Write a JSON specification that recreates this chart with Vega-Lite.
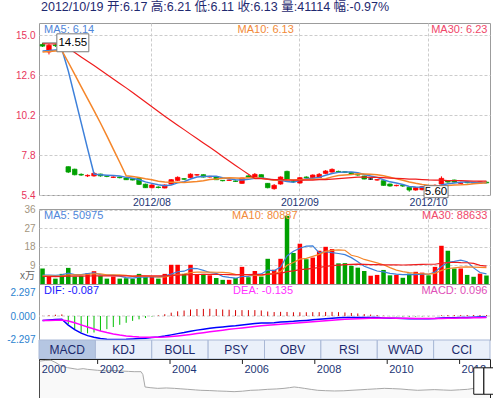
{
  "$schema": "https://vega.github.io/schema/vega-lite/v6.json",
  "padding": 0,
  "background": "#ffffff",
  "spacing": 14,
  "bounds": "flush",
  "config": {
    "font": "Liberation Sans",
    "view": {"stroke": "#9c9c9c"},
    "axis": {"domain": false, "ticks": false, "gridColor": "#cccccc", "gridDash": [3, 2], "labelFont": "Liberation Sans", "labelOverlap": false}
  },
  "datasets": {
    "k": [
      {"d":"2012-07-09","o":14.45,"h":14.55,"l":14.3,"c":14.35,"v":7.5,"m5":14.06,"m10":14.0,"m30":14.5,"vm5":4.3,"vm10":3.9,"vm30":3.63,"dif":-0.442,"dea":-0.448,"macd":0.01},
      {"d":"2012-07-10","o":14.0,"h":14.5,"l":13.85,"c":14.4,"v":3.6,"m5":14.08,"m10":14.02,"m30":14.49,"vm5":4.32,"vm10":3.91,"vm30":3.64,"dif":-0.395,"dea":-0.437,"macd":0.08},
      {"d":"2012-07-11","o":14.42,"h":14.5,"l":14.3,"c":14.38,"v":2.6,"m5":14.12,"m10":14.05,"m30":14.48,"vm5":4.14,"vm10":3.82,"vm30":3.61,"dif":-0.355,"dea":-0.421,"macd":0.13},
      {"d":"2012-07-12","o":14.42,"h":14.48,"l":14.3,"c":14.38,"v":4.9,"m5":14.16,"m10":14.08,"m30":14.47,"vm5":4.42,"vm10":3.96,"vm30":3.65,"dif":-0.32,"dea":-0.401,"macd":0.16},
      {"d":"2012-07-13","o":7.1,"h":7.12,"l":6.72,"c":6.78,"v":7.8,"m5":12.86,"m10":13.38,"m30":14.23,"vm5":5.28,"vm10":4.39,"vm30":3.8,"dif":-0.895,"dea":-0.5,"macd":-0.79},
      {"d":"2012-07-16","o":6.95,"h":6.98,"l":6.58,"c":6.62,"v":3.6,"m5":11.31,"m10":12.65,"m30":13.96,"vm5":4.5,"vm10":4.4,"vm30":3.8,"dif":-1.348,"dea":-0.67,"macd":-1.36},
      {"d":"2012-07-17","o":6.64,"h":6.7,"l":6.55,"c":6.6,"v":3.9,"m5":9.75,"m10":11.92,"m30":13.7,"vm5":4.56,"vm10":4.44,"vm30":3.81,"dif":-1.69,"dea":-0.874,"macd":-1.63},
      {"d":"2012-07-18","o":6.55,"h":6.64,"l":6.48,"c":6.58,"v":5.2,"m5":8.19,"m10":11.19,"m30":13.44,"vm5":5.08,"vm10":4.61,"vm30":3.87,"dif":-1.94,"dea":-1.087,"macd":-1.71},
      {"d":"2012-07-19","o":6.55,"h":6.78,"l":6.5,"c":6.7,"v":6.2,"m5":6.66,"m10":10.47,"m30":13.18,"vm5":5.34,"vm10":4.88,"vm30":3.96,"dif":-2.104,"dea":-1.29,"macd":-1.63},
      {"d":"2012-07-20","o":6.66,"h":6.68,"l":6.5,"c":6.55,"v":3.9,"m5":6.61,"m10":9.73,"m30":12.91,"vm5":4.56,"vm10":4.92,"vm30":3.97,"dif":-2.22,"dea":-1.476,"macd":-1.49},
      {"d":"2012-07-23","o":6.55,"h":6.58,"l":6.47,"c":6.52,"v":2.6,"m5":6.59,"m10":8.95,"m30":12.65,"vm5":4.36,"vm10":4.43,"vm30":3.94,"dif":-2.288,"dea":-1.638,"macd":-1.3},
      {"d":"2012-07-24","o":6.46,"h":6.52,"l":6.42,"c":6.48,"v":3.6,"m5":6.57,"m10":8.16,"m30":12.38,"vm5":4.3,"vm10":4.43,"vm30":3.95,"dif":-2.319,"dea":-1.774,"macd":-1.09},
      {"d":"2012-07-25","o":6.48,"h":6.5,"l":6.4,"c":6.44,"v":2.6,"m5":6.54,"m10":7.37,"m30":12.11,"vm5":3.78,"vm10":4.43,"vm30":3.92,"dif":-2.32,"dea":-1.883,"macd":-0.87},
      {"d":"2012-07-26","o":6.42,"h":6.44,"l":6.3,"c":6.32,"v":2.8,"m5":6.46,"m10":6.56,"m30":11.84,"vm5":3.1,"vm10":4.22,"vm30":3.89,"dif":-2.304,"dea":-1.967,"macd":-0.67},
      {"d":"2012-07-27","o":6.38,"h":6.42,"l":6.28,"c":6.3,"v":2.6,"m5":6.41,"m10":6.51,"m30":11.56,"vm5":2.84,"vm10":3.7,"vm30":3.86,"dif":-2.267,"dea":-2.027,"macd":-0.48},
      {"d":"2012-07-30","o":6.4,"h":6.42,"l":6.0,"c":6.04,"v":4.9,"m5":6.32,"m10":6.45,"m30":11.28,"vm5":3.3,"vm10":3.83,"vm30":3.91,"dif":-2.232,"dea":-2.068,"macd":-0.33},
      {"d":"2012-07-31","o":6.05,"h":6.08,"l":5.82,"c":5.84,"v":3.6,"m5":6.19,"m10":6.38,"m30":10.99,"vm5":3.3,"vm10":3.8,"vm30":3.91,"dif":-2.196,"dea":-2.094,"macd":-0.2},
      {"d":"2012-08-01","o":5.84,"h":6.04,"l":5.8,"c":6.0,"v":3.6,"m5":6.1,"m10":6.32,"m30":10.71,"vm5":3.5,"vm10":3.64,"vm30":3.92,"dif":-2.13,"dea":-2.101,"macd":-0.06},
      {"d":"2012-08-02","o":5.88,"h":5.92,"l":5.8,"c":5.85,"v":2.6,"m5":6.01,"m10":6.23,"m30":10.42,"vm5":3.46,"vm10":3.28,"vm30":3.89,"dif":-2.065,"dea":-2.094,"macd":0.06},
      {"d":"2012-08-03","o":5.82,"h":6.04,"l":5.8,"c":6.0,"v":4.9,"m5":5.95,"m10":6.18,"m30":10.14,"vm5":3.92,"vm10":3.38,"vm30":3.93,"dif":-1.979,"dea":-2.071,"macd":0.18},
      {"d":"2012-08-06","o":6.06,"h":6.36,"l":6.02,"c":6.32,"v":9.3,"m5":6.0,"m10":6.16,"m30":9.87,"vm5":4.8,"vm10":4.05,"vm30":4.13,"dif":-1.863,"dea":-2.029,"macd":0.33},
      {"d":"2012-08-07","o":6.28,"h":6.52,"l":6.24,"c":6.46,"v":9.3,"m5":6.13,"m10":6.16,"m30":9.6,"vm5":5.94,"vm10":4.62,"vm30":4.32,"dif":-1.741,"dea":-1.971,"macd":0.46},
      {"d":"2012-08-08","o":6.38,"h":6.42,"l":6.3,"c":6.35,"v":4.9,"m5":6.2,"m10":6.15,"m30":9.33,"vm5":6.2,"vm10":4.85,"vm30":4.37,"dif":-1.634,"dea":-1.904,"macd":0.54},
      {"d":"2012-08-09","o":6.45,"h":6.7,"l":6.4,"c":6.65,"v":9.3,"m5":6.36,"m10":6.18,"m30":9.06,"vm5":7.54,"vm10":5.5,"vm30":4.56,"dif":-1.507,"dea":-1.825,"macd":0.64},
      {"d":"2012-08-10","o":6.6,"h":6.66,"l":6.55,"c":6.62,"v":4.6,"m5":6.48,"m10":6.21,"m30":8.8,"vm5":7.48,"vm10":5.7,"vm30":4.6,"dif":-1.394,"dea":-1.739,"macd":0.69},
      {"d":"2012-08-13","o":6.62,"h":6.64,"l":6.45,"c":6.48,"v":4.9,"m5":6.51,"m10":6.26,"m30":8.53,"vm5":6.6,"vm10":5.7,"vm30":4.64,"dif":-1.3,"dea":-1.651,"macd":0.7},
      {"d":"2012-08-14","o":6.48,"h":6.55,"l":6.45,"c":6.52,"v":4.2,"m5":6.52,"m10":6.33,"m30":8.27,"vm5":5.58,"vm10":5.76,"vm30":4.67,"dif":-1.208,"dea":-1.562,"macd":0.71},
      {"d":"2012-08-15","o":6.5,"h":6.52,"l":6.3,"c":6.32,"v":2.9,"m5":6.52,"m10":6.36,"m30":8.0,"vm5":5.18,"vm10":5.69,"vm30":4.65,"dif":-1.138,"dea":-1.477,"macd":0.68},
      {"d":"2012-08-16","o":6.28,"h":6.3,"l":6.22,"c":6.26,"v":2.0,"m5":6.44,"m10":6.4,"m30":7.72,"vm5":3.72,"vm10":5.63,"vm30":4.6,"dif":-1.076,"dea":-1.397,"macd":0.64},
      {"d":"2012-08-17","o":6.28,"h":6.34,"l":6.25,"c":6.3,"v":2.0,"m5":6.38,"m10":6.43,"m30":7.45,"vm5":3.2,"vm10":5.34,"vm30":4.55,"dif":-1.011,"dea":-1.32,"macd":0.62},
      {"d":"2012-08-20","o":6.24,"h":6.28,"l":6.18,"c":6.22,"v":2.9,"m5":6.32,"m10":6.42,"m30":7.18,"vm5":2.8,"vm10":4.7,"vm30":4.39,"dif":-0.955,"dea":-1.247,"macd":0.58},
      {"d":"2012-08-21","o":6.1,"h":6.44,"l":6.08,"c":6.42,"v":8.3,"m5":6.3,"m10":6.41,"m30":6.91,"vm5":3.62,"vm10":4.6,"vm30":4.55,"dif":-0.884,"dea":-1.174,"macd":0.58},
      {"d":"2012-08-22","o":6.55,"h":6.58,"l":6.44,"c":6.48,"v":3.3,"m5":6.34,"m10":6.43,"m30":6.65,"vm5":3.7,"vm10":4.44,"vm30":4.57,"dif":-0.814,"dea":-1.102,"macd":0.58},
      {"d":"2012-08-23","o":6.44,"h":6.72,"l":6.4,"c":6.64,"v":6.3,"m5":6.41,"m10":6.43,"m30":6.39,"vm5":4.56,"vm10":4.14,"vm30":4.62,"dif":-0.737,"dea":-1.029,"macd":0.58},
      {"d":"2012-08-24","o":6.62,"h":6.64,"l":6.42,"c":6.44,"v":3.6,"m5":6.44,"m10":6.41,"m30":6.38,"vm5":4.88,"vm10":4.04,"vm30":4.48,"dif":-0.685,"dea":-0.96,"macd":0.55},
      {"d":"2012-08-27","o":6.1,"h":6.12,"l":5.8,"c":5.84,"v":12.2,"m5":6.36,"m10":6.34,"m30":6.35,"vm5":6.74,"vm10":4.77,"vm30":4.77,"dif":-0.683,"dea":-0.905,"macd":0.44},
      {"d":"2012-08-28","o":5.78,"h":6.06,"l":5.72,"c":5.98,"v":6.9,"m5":6.28,"m10":6.29,"m30":6.33,"vm5":6.46,"vm10":5.04,"vm30":4.87,"dif":-0.663,"dea":-0.857,"macd":0.39},
      {"d":"2012-08-29","o":6.06,"h":6.52,"l":6.02,"c":6.48,"v":12.2,"m5":6.28,"m10":6.31,"m30":6.33,"vm5":8.24,"vm10":5.97,"vm30":5.1,"dif":-0.6,"dea":-0.806,"macd":0.41},
      {"d":"2012-08-30","o":6.82,"h":6.86,"l":6.28,"c":6.32,"v":33.0,"m5":6.21,"m10":6.31,"m30":6.31,"vm5":13.58,"vm10":9.07,"vm30":5.99,"dif":-0.557,"dea":-0.756,"macd":0.4},
      {"d":"2012-08-31","o":6.24,"h":6.3,"l":6.12,"c":6.2,"v":15.0,"m5":6.16,"m10":6.3,"m30":6.3,"vm5":15.86,"vm10":10.37,"vm30":6.36,"dif":-0.526,"dea":-0.71,"macd":0.37},
      {"d":"2012-09-03","o":6.12,"h":6.48,"l":6.08,"c":6.44,"v":19.5,"m5":6.28,"m10":6.32,"m30":6.3,"vm5":17.32,"vm10":12.03,"vm30":6.93,"dif":-0.477,"dea":-0.663,"macd":0.37},
      {"d":"2012-09-04","o":6.48,"h":6.52,"l":6.4,"c":6.44,"v":12.0,"m5":6.38,"m10":6.33,"m30":6.3,"vm5":18.34,"vm10":12.4,"vm30":7.21,"dif":-0.433,"dea":-0.617,"macd":0.37},
      {"d":"2012-09-05","o":6.44,"h":6.64,"l":6.4,"c":6.6,"v":12.8,"m5":6.4,"m10":6.34,"m30":6.3,"vm5":18.46,"vm10":13.35,"vm30":7.55,"dif":-0.381,"dea":-0.57,"macd":0.38},
      {"d":"2012-09-06","o":6.44,"h":6.72,"l":6.42,"c":6.64,"v":16.1,"m5":6.46,"m10":6.34,"m30":6.32,"vm5":15.08,"vm10":14.33,"vm30":7.99,"dif":-0.333,"dea":-0.523,"macd":0.38},
      {"d":"2012-09-07","o":6.7,"h":6.9,"l":6.66,"c":6.84,"v":18.0,"m5":6.59,"m10":6.38,"m30":6.33,"vm5":15.68,"vm10":15.77,"vm30":8.5,"dif":-0.275,"dea":-0.473,"macd":0.4},
      {"d":"2012-09-10","o":6.78,"h":7.0,"l":6.74,"c":6.94,"v":16.9,"m5":6.69,"m10":6.49,"m30":6.36,"vm5":15.16,"vm10":16.24,"vm30":8.9,"dif":-0.219,"dea":-0.422,"macd":0.41},
      {"d":"2012-09-11","o":6.82,"h":6.86,"l":6.74,"c":6.78,"v":10.0,"m5":6.76,"m10":6.57,"m30":6.39,"vm5":14.76,"vm10":16.55,"vm30":9.12,"dif":-0.185,"dea":-0.375,"macd":0.38},
      {"d":"2012-09-12","o":6.8,"h":6.84,"l":6.72,"c":6.76,"v":10.1,"m5":6.79,"m10":6.6,"m30":6.42,"vm5":14.22,"vm10":16.34,"vm30":9.33,"dif":-0.158,"dea":-0.332,"macd":0.35},
      {"d":"2012-09-13","o":6.76,"h":6.78,"l":6.6,"c":6.64,"v":8.8,"m5":6.79,"m10":6.63,"m30":6.45,"vm5":12.76,"vm10":13.92,"vm30":9.54,"dif":-0.145,"dea":-0.295,"macd":0.3},
      {"d":"2012-09-14","o":6.64,"h":6.66,"l":6.56,"c":6.6,"v":7.9,"m5":6.74,"m10":6.67,"m30":6.47,"vm5":10.74,"vm10":13.21,"vm30":9.64,"dif":-0.136,"dea":-0.263,"macd":0.25},
      {"d":"2012-09-17","o":6.54,"h":6.56,"l":6.34,"c":6.36,"v":6.3,"m5":6.63,"m10":6.66,"m30":6.47,"vm5":8.62,"vm10":11.89,"vm30":9.54,"dif":-0.147,"dea":-0.24,"macd":0.19},
      {"d":"2012-09-18","o":6.36,"h":6.4,"l":6.32,"c":6.36,"v":4.0,"m5":6.54,"m10":6.65,"m30":6.46,"vm5":7.42,"vm10":11.09,"vm30":9.36,"dif":-0.154,"dea":-0.223,"macd":0.14},
      {"d":"2012-09-19","o":6.3,"h":6.36,"l":6.26,"c":6.32,"v":4.4,"m5":6.46,"m10":6.62,"m30":6.46,"vm5":6.28,"vm10":10.25,"vm30":9.35,"dif":-0.16,"dea":-0.21,"macd":0.1},
      {"d":"2012-09-20","o":6.26,"h":6.28,"l":5.96,"c":5.98,"v":6.8,"m5":6.32,"m10":6.56,"m30":6.44,"vm5":5.88,"vm10":9.32,"vm30":9.26,"dif":-0.191,"dea":-0.206,"macd":0.03},
      {"d":"2012-09-21","o":6.06,"h":6.08,"l":5.9,"c":5.94,"v":4.2,"m5":6.19,"m10":6.47,"m30":6.42,"vm5":5.14,"vm10":7.94,"vm30":9.25,"dif":-0.216,"dea":-0.208,"macd":-0.02},
      {"d":"2012-09-24","o":5.96,"h":6.02,"l":5.92,"c":5.98,"v":4.4,"m5":6.12,"m10":6.37,"m30":6.4,"vm5":4.76,"vm10":6.69,"vm30":9.23,"dif":-0.229,"dea":-0.212,"macd":-0.03},
      {"d":"2012-09-25","o":5.98,"h":6.0,"l":5.88,"c":5.94,"v":3.0,"m5":6.03,"m10":6.29,"m30":6.38,"vm5":4.56,"vm10":5.99,"vm30":9.19,"dif":-0.241,"dea":-0.218,"macd":-0.05},
      {"d":"2012-09-26","o":5.86,"h":5.88,"l":5.6,"c":5.7,"v":5.0,"m5":5.91,"m10":6.18,"m30":6.36,"vm5":4.68,"vm10":5.48,"vm30":9.26,"dif":-0.266,"dea":-0.228,"macd":-0.08},
      {"d":"2012-09-27","o":5.7,"h":5.88,"l":5.66,"c":5.84,"v":5.9,"m5":5.88,"m10":6.1,"m30":6.35,"vm5":4.5,"vm10":5.19,"vm30":9.39,"dif":-0.272,"dea":-0.237,"macd":-0.07},
      {"d":"2012-09-28","o":5.72,"h":5.94,"l":5.68,"c":5.9,"v":5.5,"m5":5.87,"m10":6.03,"m30":6.33,"vm5":4.76,"vm10":4.95,"vm30":9.51,"dif":-0.268,"dea":-0.243,"macd":-0.05},
      {"d":"2012-10-08","o":5.94,"h":5.98,"l":5.84,"c":5.88,"v":4.2,"m5":5.85,"m10":5.98,"m30":6.31,"vm5":4.72,"vm10":4.74,"vm30":9.55,"dif":-0.264,"dea":-0.247,"macd":-0.03},
      {"d":"2012-10-09","o":5.9,"h":6.04,"l":5.86,"c":5.98,"v":8.3,"m5":5.86,"m10":5.95,"m30":6.3,"vm5":5.78,"vm10":5.17,"vm30":9.55,"dif":-0.249,"dea":-0.247,"macd":-0.004},
      {"d":"2012-10-10","o":6.06,"h":6.52,"l":6.02,"c":6.4,"v":18.5,"m5":6.0,"m10":5.95,"m30":6.29,"vm5":8.48,"vm10":6.58,"vm30":10.06,"dif":-0.201,"dea":-0.238,"macd":0.07},
      {"d":"2012-10-11","o":6.26,"h":6.3,"l":6.14,"c":6.18,"v":16.1,"m5":6.07,"m10":5.97,"m30":6.27,"vm5":10.52,"vm10":7.51,"vm30":10.39,"dif":-0.18,"dea":-0.226,"macd":0.09},
      {"d":"2012-10-12","o":6.3,"h":6.32,"l":6.14,"c":6.18,"v":7.5,"m5":6.12,"m10":6.0,"m30":6.26,"vm5":10.92,"vm10":7.84,"vm30":10.52,"dif":-0.161,"dea":-0.213,"macd":0.1},
      {"d":"2012-10-15","o":6.1,"h":6.2,"l":6.08,"c":6.12,"v":7.5,"m5":6.17,"m10":6.01,"m30":6.26,"vm5":11.58,"vm10":8.15,"vm30":10.36,"dif":-0.149,"dea":-0.2,"macd":0.1},
      {"d":"2012-10-16","o":6.18,"h":6.22,"l":6.1,"c":6.14,"v":4.4,"m5":6.2,"m10":6.03,"m30":6.25,"vm5":10.8,"vm10":8.29,"vm30":10.28,"dif":-0.136,"dea":-0.187,"macd":0.1},
      {"d":"2012-10-17","o":6.16,"h":6.18,"l":6.08,"c":6.12,"v":3.5,"m5":6.15,"m10":6.07,"m30":6.24,"vm5":7.8,"vm10":8.14,"vm30":9.99,"dif":-0.126,"dea":-0.175,"macd":0.1},
      {"d":"2012-10-18","o":6.12,"h":6.22,"l":6.1,"c":6.19,"v":5.0,"m5":6.15,"m10":6.11,"m30":6.24,"vm5":5.58,"vm10":8.05,"vm30":9.05,"dif":-0.111,"dea":-0.162,"macd":0.1},
      {"d":"2012-10-19","o":6.17,"h":6.21,"l":6.11,"c":6.13,"v":4.11,"m5":6.14,"m10":6.13,"m30":6.23,"vm5":4.9,"vm10":7.91,"vm30":8.69,"dif":-0.103,"dea":-0.15,"macd":0.09}
    ],
    "nav": [
      {"yr":2000.4,"p":37.9},{"yr":2000.55,"p":38.5},{"yr":2000.71,"p":38.7},{"yr":2000.85,"p":36.2},{"yr":2000.99,"p":32.8},
      {"yr":2001.17,"p":31.1},{"yr":2001.35,"p":30.0},{"yr":2001.45,"p":29.4},{"yr":2001.6,"p":30.1},{"yr":2001.72,"p":29.4},
      {"yr":2002.0,"p":28.4},{"yr":2002.28,"p":27.7},{"yr":2002.45,"p":28.3},{"yr":2002.64,"p":27.7},{"yr":2002.85,"p":27.3},
      {"yr":2003.01,"p":27.0},{"yr":2003.2,"p":27.0},{"yr":2003.25,"p":24.0},{"yr":2003.31,"p":11.3},{"yr":2003.45,"p":10.6},
      {"yr":2003.66,"p":9.9},{"yr":2003.9,"p":10.3},{"yr":2004.12,"p":9.9},{"yr":2004.3,"p":9.4},{"yr":2004.49,"p":8.9},
      {"yr":2004.7,"p":8.3},{"yr":2004.85,"p":7.9},{"yr":2005.1,"p":7.6},{"yr":2005.31,"p":7.2},{"yr":2005.55,"p":6.9},
      {"yr":2005.77,"p":6.5},{"yr":2006.0,"p":7.0},{"yr":2006.23,"p":7.9},{"yr":2006.45,"p":8.2},{"yr":2006.7,"p":8.9},
      {"yr":2006.95,"p":9.3},{"yr":2007.15,"p":9.9},{"yr":2007.3,"p":10.6},{"yr":2007.43,"p":11.3},{"yr":2007.55,"p":10.8},
      {"yr":2007.71,"p":9.9},{"yr":2007.9,"p":8.8},{"yr":2008.08,"p":7.9},{"yr":2008.3,"p":7.5},{"yr":2008.54,"p":7.2},
      {"yr":2008.8,"p":7.4},{"yr":2009.0,"p":7.9},{"yr":2009.25,"p":8.4},{"yr":2009.46,"p":8.9},{"yr":2009.7,"p":9.4},
      {"yr":2009.92,"p":9.9},{"yr":2010.15,"p":9.6},{"yr":2010.38,"p":9.2},{"yr":2010.6,"p":8.5},{"yr":2010.84,"p":7.9},
      {"yr":2011.1,"p":8.3},{"yr":2011.3,"p":8.6},{"yr":2011.55,"p":8.2},{"yr":2011.76,"p":7.9},{"yr":2012.0,"p":8.4},
      {"yr":2012.22,"p":8.9},{"yr":2012.4,"p":9.9},{"yr":2012.52,"p":9.6},{"yr":2012.59,"p":7.9},{"yr":2012.77,"p":7.2},{"yr":2012.84,"p":7.3}
    ]
  },
  "vconcat": [
    {
      "width": 451,
      "height": 172,
      "title": {"text": "2012/10/19 开:6.17 高:6.21 低:6.11 收:6.13 量:41114 幅:-0.97%", "anchor": "start", "frame": "group", "dx": 2, "offset": 10, "fontSize": 12.5, "fontWeight": "normal", "color": "#1f2a70", "font": "Liberation Sans, Noto Sans CJK SC", "baseline": "top"},
      "data": {"name": "k"},
      "encoding": {
        "x": {"field": "d", "type": "ordinal", "title": null, "scale": {"paddingInner": 0.3, "paddingOuter": 0.2},
          "axis": {"values": ["2012-08-01", "2012-09-03", "2012-10-08"], "labelExpr": "replace(slice(datum.value, 0, 7), '-', '/')", "labelAngle": 0, "labelColor": "#1c3575", "labelFontSize": 10.5, "labelPadding": 2, "grid": true, "bandPosition": 0.5, "minExtent": 14, "maxExtent": 14}}
      },
      "layer": [
        {"mark": {"type": "rule", "strokeWidth": 1},
         "encoding": {
           "y": {"field": "l", "type": "quantitative", "title": null, "scale": {"domain": [5.4, 15.74], "nice": false, "zero": false},
             "axis": {"values": [5.4, 7.8, 10.2, 12.6, 15.0], "tickCount": 20, "format": ".1f", "labelColor": "#e8345c", "labelFontSize": 10, "labelPadding": 4, "labelOverlap": false, "grid": true, "minExtent": 38, "maxExtent": 38}},
           "y2": {"field": "h"},
           "color": {"condition": [{"test": "datum.c > datum.o", "value": "#ff0000"}, {"test": "datum.c < datum.o", "value": "#00a000"}], "value": "#000000"}}},
        {"mark": {"type": "bar", "strokeWidth": 0.8},
         "encoding": {
           "y": {"field": "o", "type": "quantitative", "title": null},
           "y2": {"field": "c"},
           "color": {"condition": [{"test": "datum.c > datum.o", "value": "#ff0000"}, {"test": "datum.c < datum.o", "value": "#00a000"}], "value": "#000000"},
           "stroke": {"condition": [{"test": "datum.c > datum.o", "value": "#ff0000"}, {"test": "datum.c < datum.o", "value": "#00a000"}], "value": "#000000"}}},
        {"mark": {"type": "line", "color": "#3d80da", "strokeWidth": 1.5}, "encoding": {"y": {"field": "m5", "type": "quantitative", "title": null}}},
        {"mark": {"type": "line", "color": "#f5862a", "strokeWidth": 1.5}, "encoding": {"y": {"field": "m10", "type": "quantitative", "title": null}}},
        {"mark": {"type": "line", "color": "#f01c1c", "strokeWidth": 1.2}, "encoding": {"y": {"field": "m30", "type": "quantitative", "title": null}}},
        {"data": {"values": [{"d": "2012-07-09", "t": "MA5: 6.14"}]},
         "mark": {"type": "text", "align": "left", "baseline": "top", "dx": 1.5, "dy": 1, "fontSize": 11, "color": "#4f86da"},
         "encoding": {"y": {"datum": 15.74}, "text": {"field": "t"}}},
        {"data": {"values": [{"d": "2012-08-20", "t": "MA10: 6.13"}]},
         "mark": {"type": "text", "align": "left", "baseline": "top", "dx": 2, "dy": 1, "fontSize": 11, "color": "#f28a38"},
         "encoding": {"y": {"datum": 15.74}, "text": {"field": "t"}}},
        {"data": {"values": [{"d": "2012-10-19", "t": "MA30: 6.23"}]},
         "mark": {"type": "text", "align": "right", "baseline": "top", "dx": 1, "dy": 1, "fontSize": 11, "color": "#f0476a"},
         "encoding": {"y": {"datum": 15.74}, "text": {"field": "t"}}},
        {"data": {"values": [{"d": "2012-07-09", "d2": "2012-07-12", "p": 14.55}]},
         "mark": {"type": "rule", "color": "#8a8a8a", "strokeWidth": 1},
         "encoding": {"x2": {"field": "d2"}, "y": {"field": "p", "type": "quantitative", "title": null}}},
        {"data": {"values": [{"d": "2012-07-12", "p": 14.55, "t": "14.55"}]},
         "mark": {"type": "point", "shape": "M-1,-0.56H1V0.56H-1Z", "size": 1024, "filled": true, "fill": "#ffffff", "stroke": "#7a7a7a", "strokeWidth": 1, "opacity": 1, "xOffset": 11},
         "encoding": {"y": {"field": "p", "type": "quantitative", "title": null}}},
        {"data": {"values": [{"d": "2012-07-12", "p": 14.55, "t": "14.55"}]},
         "mark": {"type": "text", "dx": 11, "fontSize": 11.5, "color": "#000000"},
         "encoding": {"y": {"field": "p", "type": "quantitative", "title": null}, "text": {"field": "t"}}},
        {"data": {"values": [{"d": "2012-10-08", "p": 5.6, "t": "5.60"}]},
         "mark": {"type": "point", "shape": "M-1,-0.5H1V0.5H-1Z", "size": 576, "filled": true, "fill": "#ffffff", "stroke": "#7a7a7a", "strokeWidth": 1, "opacity": 1, "xOffset": 7.5},
         "encoding": {"y": {"field": "p", "type": "quantitative", "title": null}}},
        {"data": {"values": [{"d": "2012-10-08", "p": 5.6, "t": "5.60"}]},
         "mark": {"type": "text", "dx": 7.5, "fontSize": 11.5, "color": "#000000"},
         "encoding": {"y": {"field": "p", "type": "quantitative", "title": null}, "text": {"field": "t"}}}
      ]
    },
    {
      "spacing": 0,
      "bounds": "flush",
      "vconcat": [
        {
          "width": 451,
          "height": 75,
          "data": {"name": "k"},
          "encoding": {
            "x": {"field": "d", "type": "ordinal", "title": null, "scale": {"paddingInner": 0.3, "paddingOuter": 0.2},
              "axis": {"values": ["2012-08-01", "2012-09-03", "2012-10-08"], "labels": false, "grid": true, "bandPosition": 0.5, "minExtent": 0, "maxExtent": 0}}
          },
          "layer": [
            {"mark": {"type": "bar"},
             "encoding": {
               "y": {"field": "v", "type": "quantitative", "title": null, "scale": {"domain": [0, 36.3], "nice": false},
                 "axis": {"values": [9, 18, 27, 36], "tickCount": 20, "labelColor": "#a39580", "labelFontSize": 10, "labelPadding": 4, "labelOverlap": false, "grid": true, "minExtent": 38, "maxExtent": 38}},
               "color": {"condition": {"test": "datum.c >= datum.o", "value": "#ff0000"}, "value": "#00a000"}}},
            {"mark": {"type": "line", "color": "#3d80da", "strokeWidth": 1.2}, "encoding": {"y": {"field": "vm5", "type": "quantitative", "title": null}}},
            {"mark": {"type": "line", "color": "#f5862a", "strokeWidth": 1.2}, "encoding": {"y": {"field": "vm10", "type": "quantitative", "title": null}}},
            {"mark": {"type": "line", "color": "#f01c1c", "strokeWidth": 1.2}, "encoding": {"y": {"field": "vm30", "type": "quantitative", "title": null}}},
            {"data": {"values": [{"d": "2012-07-09", "t": "x万"}]},
             "mark": {"type": "text", "align": "right", "baseline": "middle", "dx": -7.5, "fontSize": 10, "color": "#666666", "font": "Liberation Sans, Noto Sans CJK SC"},
             "encoding": {"y": {"datum": 4}, "text": {"field": "t"}}},
            {"data": {"values": [{"d": "2012-07-09", "t": "MA5: 50975"}]},
             "mark": {"type": "text", "align": "left", "baseline": "top", "dx": 1.5, "dy": 1, "fontSize": 11, "color": "#4f86da"},
             "encoding": {"y": {"datum": 36.3}, "text": {"field": "t"}}},
            {"data": {"values": [{"d": "2012-08-17", "t": "MA10: 80887"}]},
             "mark": {"type": "text", "align": "left", "baseline": "top", "dx": 3, "dy": 1, "fontSize": 11, "color": "#f28a38"},
             "encoding": {"y": {"datum": 36.3}, "text": {"field": "t"}}},
            {"data": {"values": [{"d": "2012-10-19", "t": "MA30: 88633"}]},
             "mark": {"type": "text", "align": "right", "baseline": "top", "dx": 1, "dy": 1, "fontSize": 11, "color": "#f0476a"},
             "encoding": {"y": {"datum": 36.3}, "text": {"field": "t"}}}
          ]
        },
        {
          "width": 451,
          "height": 56,
          "data": {"name": "k"},
          "layer": [
            {"data": {"values": [{"z": 0}]},
             "mark": {"type": "rule", "color": "#cccccc", "strokeDash": [3, 2], "strokeWidth": 1},
             "encoding": {"y": {"field": "z", "type": "quantitative", "title": null}}},
            {"mark": {"type": "rule", "strokeWidth": 1},
             "encoding": {
               "x": {"field": "d", "type": "ordinal", "title": null, "scale": {"paddingInner": 0.3, "paddingOuter": 0.2}, "axis": null},
               "y": {"field": "macd", "type": "quantitative", "title": null, "scale": {"domain": [-2.37, 3.16], "nice": false, "zero": false},
                 "axis": {"values": [-2.297, 0, 2.297], "tickCount": 20, "format": ".3f", "labelExpr": "replace(datum.label, '\u2212', '-')", "labelColor": "#2b82cf", "labelFontSize": 10, "labelPadding": 4, "labelOverlap": false, "grid": false, "minExtent": 38, "maxExtent": 38}},
               "y2": {"datum": 0},
               "color": {"condition": {"test": "datum.macd >= 0", "value": "#d40000"}, "value": "#00c000"}}},
            {"mark": {"type": "line", "color": "#0000ff", "strokeWidth": 1.5},
             "encoding": {"x": {"field": "d", "type": "ordinal"}, "y": {"field": "dif", "type": "quantitative", "title": null}}},
            {"mark": {"type": "line", "color": "#ff00ff", "strokeWidth": 1.5},
             "encoding": {"x": {"field": "d", "type": "ordinal"}, "y": {"field": "dea", "type": "quantitative", "title": null}}},
            {"data": {"values": [{"d": "2012-07-09", "t": "DIF: -0.087"}]},
             "mark": {"type": "text", "align": "left", "baseline": "top", "dx": 1.5, "dy": 1, "fontSize": 11, "color": "#1a1aff"},
             "encoding": {"x": {"field": "d", "type": "ordinal"}, "y": {"datum": 3.16}, "text": {"field": "t"}}},
            {"data": {"values": [{"d": "2012-08-17", "t": "DEA: -0.135"}]},
             "mark": {"type": "text", "align": "left", "baseline": "top", "dx": 4, "dy": 1, "fontSize": 11, "color": "#ff33ff"},
             "encoding": {"x": {"field": "d", "type": "ordinal"}, "y": {"datum": 3.16}, "text": {"field": "t"}}},
            {"data": {"values": [{"d": "2012-10-19", "t": "MACD: 0.096"}]},
             "mark": {"type": "text", "align": "right", "baseline": "top", "dx": 1, "dy": 1, "fontSize": 11, "color": "#e050b8"},
             "encoding": {"x": {"field": "d", "type": "ordinal"}, "y": {"datum": 3.16}, "text": {"field": "t"}}}
          ]
        },
        {
          "width": 451,
          "height": 19,
          "view": {"stroke": null},
          "data": {"values": [{"t": "MACD"}, {"t": "KDJ"}, {"t": "BOLL"}, {"t": "PSY"}, {"t": "OBV"}, {"t": "RSI"}, {"t": "WVAD"}, {"t": "CCI"}]},
          "encoding": {
            "x": {"field": "t", "type": "nominal", "sort": null, "title": null, "scale": {"paddingInner": 0, "paddingOuter": 0}, "axis": null}
          },
          "layer": [
            {"mark": {"type": "rect", "stroke": "#a9b8d6", "strokeWidth": 1},
             "encoding": {"fill": {"condition": {"test": "datum.t == 'MACD'", "value": "#b5c6e2"}, "value": "#eaf0fa"}}},
            {"mark": {"type": "text", "fontSize": 12, "color": "#1c2a6c"},
             "encoding": {"text": {"field": "t"}}}
          ]
        },
        {
          "width": 451,
          "height": 39,
          "view": {"stroke": "#222222"},
          "layer": [
            {"data": {"name": "nav"},
             "mark": {"type": "area", "color": "#f6f6f6", "line": {"color": "#a8a8a8", "strokeWidth": 1}},
             "encoding": {
               "x": {"field": "yr", "type": "quantitative", "title": null, "scale": {"domain": [2000.38, 2012.84], "nice": false, "zero": false}, "axis": null},
               "y": {"field": "p", "type": "quantitative", "title": null, "scale": {"domain": [0, 40], "nice": false}, "axis": null}}},
            {"data": {"values": [{"yr": 2002}, {"yr": 2004}, {"yr": 2006}, {"yr": 2008}, {"yr": 2010}, {"yr": 2012}]},
             "mark": {"type": "rule", "color": "#222222", "strokeWidth": 1},
             "encoding": {"x": {"field": "yr", "type": "quantitative"}, "y": {"datum": 40}, "y2": {"datum": 34.9}}},
            {"data": {"values": [{"yr": 2000.4, "t": "2000"}, {"yr": 2002, "t": "2002"}, {"yr": 2004, "t": "2004"}, {"yr": 2006, "t": "2006"}, {"yr": 2008, "t": "2008"}, {"yr": 2010, "t": "2010"}, {"yr": 2012, "t": "2012"}]},
             "mark": {"type": "text", "align": "left", "baseline": "middle", "dx": 2, "dy": 11, "fontSize": 11, "color": "#1c3575"},
             "encoding": {"x": {"field": "yr", "type": "quantitative"}, "y": {"datum": 40}, "text": {"field": "t"}}},
            {"data": {"values": [{"yr": 2012.53}, {"yr": 2012.81}]},
             "mark": {"type": "point", "shape": "M-0.38,-1H0.38V1H-0.38Z", "size": 700, "filled": true, "fill": "#ffffff", "stroke": "#111111", "strokeWidth": 1, "opacity": 1},
             "encoding": {"x": {"field": "yr", "type": "quantitative"}, "y": {"datum": 17.4}}}
          ]
        }
      ]
    }
  ]
}
